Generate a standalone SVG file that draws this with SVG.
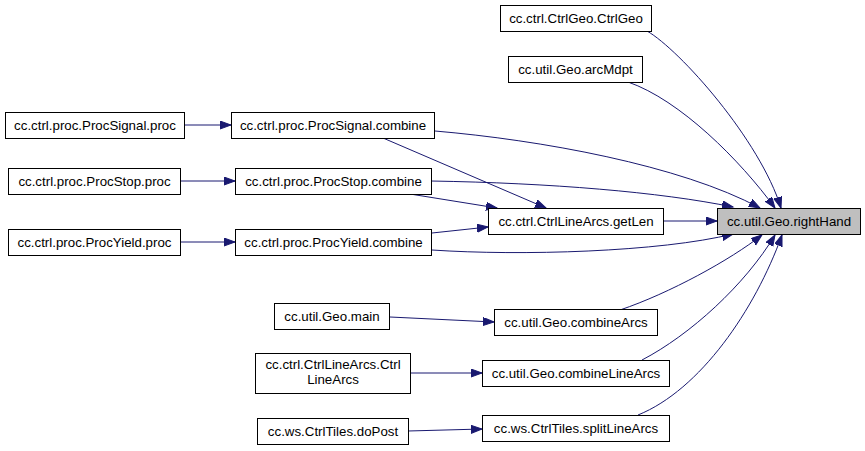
<svg xmlns="http://www.w3.org/2000/svg" width="865" height="451" viewBox="0 0 865 451">
<defs>
<marker id="arr" markerUnits="userSpaceOnUse" markerWidth="13" markerHeight="10" refX="11" refY="4" orient="auto">
<path d="M0,0 L11,4 L0,8 z" fill="#191970" stroke="#191970" stroke-width="1"/>
</marker>
</defs>
<style>
.n rect{fill:#ffffff;stroke:#000000;stroke-width:1}
.n.h rect{fill:#bfbfbf}
.n text{font-family:"Liberation Sans",Arial,sans-serif;font-size:13.3px;fill:#000000;text-anchor:middle}
#edges path{fill:none;stroke:#191970;stroke-width:1;marker-end:url(#arr)}
</style>
<rect x="0" y="0" width="865" height="451" fill="#ffffff"/>
<g id="edges">
<path d="M647,31 C680,50 760,140 781,208"/>
<path d="M628,82 C680,100 740,160 775,208"/>
<path d="M435,131 C540,140 680,165 760,208"/>
<path d="M383,138 L546,208"/>
<path d="M431,181 C550,183 660,192 733,207"/>
<path d="M410,194 L497,208"/>
<path d="M432,233 L488,227"/>
<path d="M432,250 C520,256 660,252 733,234"/>
<path d="M663,221 L717,221"/>
<path d="M620,310 C670,293 730,260 762,235"/>
<path d="M642,360 C690,335 745,285 775,235"/>
<path d="M638,415 C700,390 755,310 782,235"/>
<path d="M184,125 L231,125"/>
<path d="M180,181 L235,181"/>
<path d="M181,242 L235,242"/>
<path d="M390,317 L494,322"/>
<path d="M411,373 L482,373"/>
<path d="M408,431 L482,429"/>
</g>
<g id="n_righthand" class="n h"><rect x="717.5" y="208.5" width="143" height="26"/><text x="789" y="226">cc.util.Geo.rightHand</text></g>
<g id="n_ctrlgeo" class="n"><rect x="500.5" y="5.5" width="151" height="26"/><text x="576" y="23">cc.ctrl.CtrlGeo.CtrlGeo</text></g>
<g id="n_arcmdpt" class="n"><rect x="508.5" y="56.5" width="134" height="26"/><text x="575.5" y="74">cc.util.Geo.arcMdpt</text></g>
<g id="n_getlen" class="n"><rect x="488.5" y="208.5" width="175" height="26"/><text x="576" y="226">cc.ctrl.CtrlLineArcs.getLen</text></g>
<g id="n_sigproc" class="n"><rect x="5.5" y="112.5" width="179" height="26"/><text x="95" y="130">cc.ctrl.proc.ProcSignal.proc</text></g>
<g id="n_sigcomb" class="n"><rect x="231.5" y="112.5" width="203" height="26"/><text x="333" y="130">cc.ctrl.proc.ProcSignal.combine</text></g>
<g id="n_stopproc" class="n"><rect x="8.5" y="168.5" width="172" height="26"/><text x="94.5" y="186">cc.ctrl.proc.ProcStop.proc</text></g>
<g id="n_stopcomb" class="n"><rect x="235.5" y="168.5" width="196" height="26"/><text x="333.5" y="186">cc.ctrl.proc.ProcStop.combine</text></g>
<g id="n_yieldproc" class="n"><rect x="8.5" y="229.5" width="172" height="26"/><text x="94.5" y="247">cc.ctrl.proc.ProcYield.proc</text></g>
<g id="n_yieldcomb" class="n"><rect x="235.5" y="229.5" width="196" height="26"/><text x="333.5" y="247">cc.ctrl.proc.ProcYield.combine</text></g>
<g id="n_main" class="n"><rect x="274.5" y="303.5" width="115" height="26"/><text x="332" y="321">cc.util.Geo.main</text></g>
<g id="n_combarcs" class="n"><rect x="494.5" y="309.5" width="163" height="26"/><text x="576" y="327">cc.util.Geo.combineArcs</text></g>
<g id="n_ctrllinearcs" class="n"><rect x="255.5" y="353.5" width="155" height="40"/><text x="333" y="369">cc.ctrl.CtrlLineArcs.Ctrl</text><text x="333" y="384">LineArcs</text></g>
<g id="n_comblinearcs" class="n"><rect x="482.5" y="360.5" width="187" height="26"/><text x="576" y="378">cc.util.Geo.combineLineArcs</text></g>
<g id="n_dopost" class="n"><rect x="257.5" y="418.5" width="151" height="26"/><text x="333" y="436">cc.ws.CtrlTiles.doPost</text></g>
<g id="n_splitlinearcs" class="n"><rect x="482.5" y="415.5" width="187" height="26"/><text x="576" y="433">cc.ws.CtrlTiles.splitLineArcs</text></g>
</svg>
